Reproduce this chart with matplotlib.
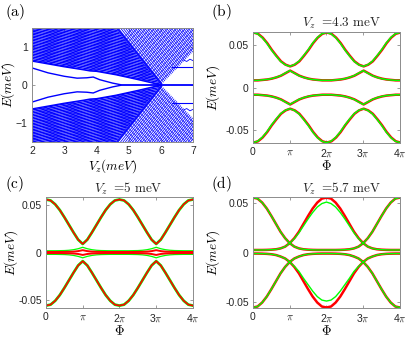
import numpy as np
import matplotlib.pyplot as plt
from matplotlib.patches import Polygon

plt.rcParams["font.family"] = ["Liberation Sans", "DejaVu Sans"]
plt.rcParams["mathtext.fontset"] = "cm"

# ---------------- panel (a): spectrum vs Vz ----------------
# upper half, the lower half is its mirror image (E -> -E)
A_EDGE_VZ = [2.0, 3.0, 3.6, 3.8, 4.0, 4.6, 5.3, 6.0]
A_EDGE_E = [0.63, 0.48, 0.40, 0.37, 0.36, 0.27, 0.14, 0.0]
A_MZM_VZ = [2.0, 2.5, 3.0, 3.4, 3.7, 3.9, 4.1, 4.5, 4.8, 7.0]
A_MZM_E = [0.45, 0.32, 0.23, 0.18, 0.19, 0.21, 0.14, 0.05, 0.0, 0.0]
A_GAP_LINE_VZ = [6.35, 7.0]
A_GAP_LINE_E = [0.48, 0.48]
A_LOOP_VZ = [6.7, 6.8, 6.9, 7.0]
A_LOOP_E = [0.66, 0.62, 0.68, 0.64]

# bulk region left of the closing diagonal, and the striped region right of it
A_DENSE_VZ = [2.0, 3.0, 3.6, 3.8, 4.0, 4.6, 5.3, 6.0, 4.6, 2.0]
A_DENSE_E = [0.63, 0.48, 0.40, 0.37, 0.36, 0.27, 0.14, 0.0, 1.5, 1.5]
A_STRIPE_VZ = [6.0, 4.6, 7.0, 7.0]
A_STRIPE_E = [0.0, 1.5, 1.5, 0.88]

# line families inside those regions: energy at the reference Vz, and slope
A_BULK_OFFSETS = [0.66, 0.70, 0.74, 0.78, 0.82, 0.86, 0.90, 0.94, 0.98, 1.02, 1.06,
                  1.10, 1.14, 1.18, 1.22, 1.26, 1.30, 1.34, 1.38, 1.42, 1.46, 1.50,
                  1.54, 1.58, 1.62, 1.66, 1.70, 1.74, 1.78, 1.82, 1.86, 1.90]
A_BULK_SLOPE = -0.16
A_CROSS_OFFSETS = [-0.9, -0.82, -0.74, -0.66, -0.58, -0.5, -0.42, -0.34, -0.26, -0.18,
                   -0.1, -0.02, 0.06, 0.14, 0.22, 0.3, 0.38, 0.46, 0.54, 0.62, 0.7,
                   0.78, 0.86, 0.94, 1.02, 1.1, 1.18, 1.26, 1.34, 1.42]
A_CROSS_SLOPE = 0.22
A_FAN_OFFSETS = [0.0, 0.02, 0.04, 0.06, 0.08, 0.16, 0.24, 0.32, 0.40, 0.48, 0.56,
                 0.64, 0.72, 0.80, 0.88, 0.96, 1.04, 1.12, 1.20, 1.28, 1.36, 1.44,
                 1.52, 1.60, 1.68, 1.76, 1.84, 1.92, 2.00, 2.08, 2.16, 2.24, 2.32,
                 2.40, 2.48]
A_FAN_SLOPE = -1.07
A_RISE_OFFSETS = [0.1, 0.22, 0.34, 0.46, 0.58, 0.70, 0.82, 0.94, 1.06, 1.18, 1.30,
                  1.42, 1.54, 1.66, 1.78, 1.90, 2.02, 2.14, 2.26]
A_RISE_SLOPE = 0.88

# ---------------- panels (b)-(d): bands vs flux ----------------
PHI_STEP = np.pi / 8
PHI_TICKS = [0, np.pi, 2 * np.pi, 3 * np.pi, 4 * np.pi]
PHI_LABELS = ["0", r"$\pi$", r"2$\pi$", r"3$\pi$", r"4$\pi$"]

# values on [0, pi] in steps of pi/8 (bands are even and 2pi periodic)
B_OUTER = [0.065, 0.0635, 0.059, 0.0525, 0.0445, 0.0375, 0.031, 0.027, 0.025]
B_INNER = [0.0085, 0.0085, 0.009, 0.0095, 0.0105, 0.012, 0.014, 0.017, 0.020]

C_OUTER = [0.0555, 0.0545, 0.0505, 0.0445, 0.037, 0.029, 0.021, 0.0135, 0.009]
C_INNER_GREEN = [0.0019, 0.0019, 0.0019, 0.002, 0.0021, 0.0024, 0.003, 0.004, 0.0055]
C_INNER_RED = [0.0006, 0.0006, 0.0006, 0.0006, 0.0007, 0.0008, 0.001, 0.0015, 0.0025]

# values on [0, 2pi] in steps of pi/8 (bands are even about 2pi)
D_A = [0.0555, 0.0545, 0.0505, 0.0445, 0.037, 0.029, 0.021, 0.0145, 0.0095,
       0.006, 0.0042, 0.0033, 0.0029, 0.0027, 0.0026, 0.0026, 0.0026]
D_B_RED = [0.0026, 0.0026, 0.0026, 0.0027, 0.0029, 0.0033, 0.0042, 0.006, 0.0095,
           0.0145, 0.021, 0.029, 0.037, 0.0445, 0.0505, 0.0545, 0.0555]
D_B_GREEN = [0.0026, 0.0026, 0.0026, 0.0027, 0.0029, 0.0033, 0.0042, 0.006, 0.0095,
             0.014, 0.020, 0.027, 0.034, 0.0405, 0.046, 0.0495, 0.051]
D_A_LOW = [-0.0555, -0.0545, -0.0505, -0.0445, -0.037, -0.029, -0.021, -0.0145, -0.0095,
           -0.006, -0.004, -0.0025, -0.0017, -0.0013, -0.0011, -0.001, -0.001]
D_B_LOW_RED = [-0.001, -0.001, -0.0011, -0.0013, -0.0017, -0.0025, -0.004, -0.006, -0.0095,
               -0.0145, -0.021, -0.029, -0.037, -0.0445, -0.0505, -0.0545, -0.0555]
D_B_LOW_GREEN = [-0.001, -0.001, -0.0011, -0.0013, -0.0017, -0.0025, -0.004, -0.006, -0.0095,
                 -0.014, -0.019, -0.026, -0.0325, -0.039, -0.0445, -0.048, -0.049]

RED = "#ff0000"
GREEN = "#00ff00"
BLUE = "#0000ff"
SPINE = "#8c8c8c"
TEXT = "#262626"


def from_pi(half):
    # [0, pi] -> [0, 4pi]
    one = list(half) + list(half[-2::-1])
    return np.array(one + one[1:])


def from_2pi(vals):
    # [0, 2pi] -> [0, 4pi]
    return np.array(list(vals) + list(vals[-2::-1]))


def style_axes(ax):
    for s in ax.spines.values():
        s.set_color(SPINE)
        s.set_linewidth(0.7)
    ax.tick_params(direction="in", length=2.5, width=0.6, color=SPINE,
                   labelsize=7.5, labelcolor=TEXT, top=True, right=True, pad=3)


def family(ax, offsets, slope, ref_vz, clip, lw):
    vz = np.array([2.0, 7.0])
    for sign in (1, -1):
        for c in offsets:
            ln, = ax.plot(vz, sign * (c + slope * (vz - ref_vz)), color=BLUE, lw=lw)
            ln.set_clip_path(clip[sign])


fig = plt.figure(figsize=(4.07, 3.38), dpi=100)

# ---- (a) ----
ax = fig.add_axes([0.0786, 0.580, 0.396, 0.337])
clips_dense = {}
clips_stripe = {}
for sign in (1, -1):
    p = Polygon(np.column_stack([A_DENSE_VZ, sign * np.array(A_DENSE_E)]),
                closed=True, fc="none", ec="none", transform=ax.transData)
    ax.add_patch(p)
    clips_dense[sign] = p
    q = Polygon(np.column_stack([A_STRIPE_VZ, sign * np.array(A_STRIPE_E)]),
                closed=True, fc="none", ec="none", transform=ax.transData)
    ax.add_patch(q)
    clips_stripe[sign] = q

family(ax, A_BULK_OFFSETS, A_BULK_SLOPE, 2.0, clips_dense, 0.9)
family(ax, A_CROSS_OFFSETS, A_CROSS_SLOPE, 2.0, clips_dense, 0.5)
family(ax, A_FAN_OFFSETS, A_FAN_SLOPE, 6.0, clips_stripe, 0.55)
family(ax, A_RISE_OFFSETS, A_RISE_SLOPE, 6.0, clips_stripe, 0.4)

for sign in (1, -1):
    ax.plot(A_EDGE_VZ, sign * np.array(A_EDGE_E), color=BLUE, lw=1.0)
    ax.plot(A_MZM_VZ, sign * np.array(A_MZM_E), color=BLUE, lw=1.0)
    ax.plot(A_GAP_LINE_VZ, sign * np.array(A_GAP_LINE_E), color=BLUE, lw=0.8)
    ax.plot(A_LOOP_VZ, sign * np.array(A_LOOP_E), color=BLUE, lw=0.6)

ax.set_xlim(2, 7)
ax.set_ylim(-1.5, 1.5)
ax.set_xticks([2, 3, 4, 5, 6, 7])
ax.set_yticks([-1, 0, 1])
style_axes(ax)
ax.set_xlabel(r"$V_z(meV)$", fontsize=9.5)
ax.set_ylabel(r"$E(meV)$", fontsize=9.5)
ax.xaxis.set_label_coords(0.5, -0.135)
ax.yaxis.set_label_coords(-0.09, 0.5)

# ---- (b), (c), (d) ----
phi = np.arange(33) * PHI_STEP
panels = [
    ([0.6216, 0.577, 0.361, 0.328], 0.0655, r"$V_z\ =\!4.3\ \mathrm{meV}$", 0.605, -0.21),
    ([0.113, 0.0888, 0.361, 0.328], 0.058, r"$V_z\ =\!5\ \mathrm{meV}$", 0.56, -0.175),
    ([0.6216, 0.0888, 0.361, 0.328], 0.056, r"$V_z\ =\!5.7\ \mathrm{meV}$", 0.605, -0.21),
]
axes = []
for rect, lim, title, tx, lx in panels:
    a = fig.add_axes(rect)
    a.set_xlim(0, 4 * np.pi)
    a.set_ylim(-lim, lim)
    a.set_xticks(PHI_TICKS)
    a.set_xticklabels(PHI_LABELS)
    a.set_yticks([-0.05, 0, 0.05])
    a.set_yticklabels(["-0.05", "0", "0.05"])
    style_axes(a)
    a.set_xlabel(r"$\Phi$", fontsize=9.5)
    a.set_ylabel(r"$E(meV)$", fontsize=9.5)
    a.xaxis.set_label_coords(0.5, -0.15)
    a.yaxis.set_label_coords(lx, 0.5)
    a.text(tx, 1.075, title, transform=a.transAxes, ha="center", va="center",
           fontsize=9.5, color=TEXT)
    axes.append(a)

ab, ac, ad = axes

for sign in (1, -1):
    for band in (B_OUTER, B_INNER):
        ab.plot(phi + 0.04, sign * from_pi(band), color=RED, lw=1.8)
        ab.plot(phi, sign * from_pi(band), color=GREEN, lw=1.1)

for sign in (1, -1):
    ac.plot(phi, sign * from_pi(C_OUTER), color=GREEN, lw=2.0)
    ac.plot(phi, sign * from_pi(C_OUTER), color=RED, lw=1.2)
    ac.plot(phi, sign * from_pi(C_INNER_GREEN), color=GREEN, lw=0.9)
    ac.plot(phi, sign * from_pi(C_INNER_RED), color=RED, lw=1.4)

for vals in (D_A, D_B_RED, D_A_LOW, D_B_LOW_RED):
    ad.plot(phi, from_2pi(vals), color=RED, lw=1.8)
for vals in (D_A, D_B_GREEN, D_A_LOW, D_B_LOW_GREEN):
    ad.plot(phi, from_2pi(vals), color=GREEN, lw=1.0)

for label, x, y in [("(a)", 5, 12), ("(b)", 211, 12), ("(c)", 5, 184), ("(d)", 211, 184)]:
    fig.text(x / 407, 1 - y / 338, r"$\mathrm{" + label + "}$", fontsize=11,
             va="center", ha="left", color="black")

fig.savefig("out.png", dpi=100)
